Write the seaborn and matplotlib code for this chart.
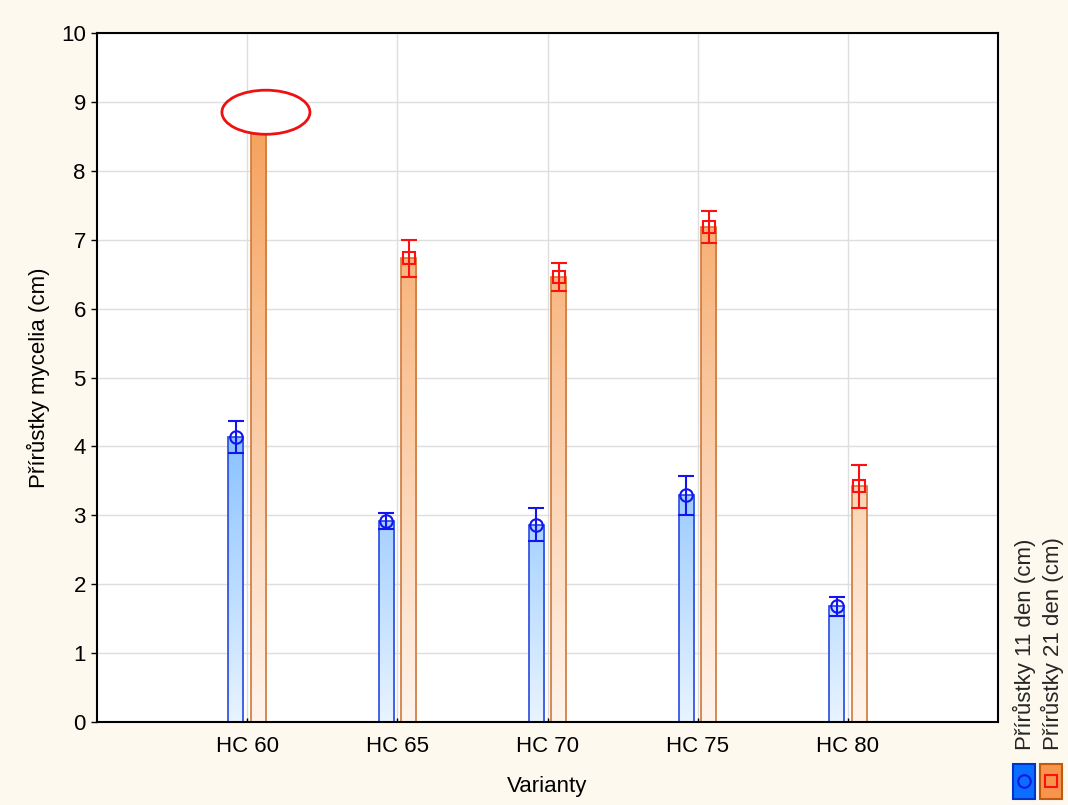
import matplotlib.pyplot as plt
import matplotlib.patches as mpatches
from matplotlib.lines import Line2D
from matplotlib.colors import LinearSegmentedColormap
import numpy as np
import pandas as pd
import seaborn as sns

# hodnoty
varianty = ['HC 60', 'HC 65', 'HC 70', 'HC 75', 'HC 80']
den11 = [4.14, 2.92, 2.86, 3.29, 1.68]
den11_err = [0.235, 0.12, 0.24, 0.28, 0.135]
den21 = [8.80, 6.73, 6.46, 7.18, 3.42]
den21_err = [0.25, 0.27, 0.20, 0.23, 0.315]
serie = ['Přírůstky 11 den (cm)', 'Přírůstky 21 den (cm)']
y_ticks = list(range(0, 11))


def main():
    sns.set_theme(style='ticks')
    plt.rcParams['font.family'] = ['Liberation Sans', 'DejaVu Sans']
    bg = '#fdf9ee'
    fs = 16

    df = pd.DataFrame({
        'Varianty': varianty * 2,
        'hodnota': den11 + den21,
        'serie': [serie[0]] * 5 + [serie[1]] * 5,
    })

    fig = plt.figure(figsize=(10.68, 8.05), dpi=100, facecolor=bg)
    ax = fig.add_axes([0.0908, 0.1031, 0.8437, 0.8559])
    ax.set_facecolor('white')

    sns.barplot(data=df, x='Varianty', y='hodnota', hue='serie', order=varianty,
                hue_order=serie, width=0.3, gap=0.33, errorbar=None,
                legend=False, ax=ax)

    cm_blue = LinearSegmentedColormap.from_list('b', ['#e8f4ff', '#1a86ff'])
    cm_orange = LinearSegmentedColormap.from_list('o', ['#fff4ec', '#f59f58'])
    edges = ['#2848e0', '#d07838']
    err_col = ['#1414f0', '#ff1010']
    markers = ['o', 's']
    errs = [den11_err, den21_err]
    vals = [den11, den21]

    bars = list(ax.patches)
    for i, p in enumerate(bars):
        k = i // 5
        x0, w, h = p.get_x(), p.get_width(), p.get_height()
        p.set_facecolor('none')
        p.set_edgecolor(edges[k])
        p.set_linewidth(1.2)
        p.set_zorder(3)
        grad = np.linspace(0, h, 256).reshape(-1, 1)
        im = ax.imshow(grad, extent=[x0, x0 + w, 0, h], origin='lower',
                       aspect='auto', cmap=[cm_blue, cm_orange][k],
                       vmin=0, vmax=9, zorder=2, interpolation='bilinear')
        im.set_clip_path(p)
        xc = x0 + w / 2
        j = i % 5
        ax.errorbar(xc, vals[k][j], yerr=errs[k][j], color=err_col[k],
                    capsize=5.5, capthick=1.5, elinewidth=1.5, zorder=4,
                    marker=markers[k], markersize=9 if k == 0 else 8.5,
                    markerfacecolor='none', markeredgecolor=err_col[k],
                    markeredgewidth=1.5)

    # zvyrazneni HC 60 (21 den)
    ax.add_patch(mpatches.Ellipse((0.125, 8.85), 0.586, 0.64, facecolor='white',
                                  edgecolor='#ee1111', linewidth=2, zorder=6))

    ax.set_xlim(-1, 5)
    ax.set_ylim(0, 10)
    ax.set_yticks(y_ticks)
    ax.grid(True, color='#dedede', linewidth=1)
    ax.set_axisbelow(True)
    for s in ax.spines.values():
        s.set_color('black')
        s.set_linewidth(1.5)
        s.set_zorder(7)
    ax.tick_params(axis='y', direction='out', length=4, width=1,
                   labelsize=fs, pad=4, colors='black')
    ax.tick_params(axis='x', direction='in', length=3, width=1,
                   labelsize=fs, pad=10, colors='black')
    ax.set_xlabel('Varianty', fontsize=fs, labelpad=14, color='black')
    ax.set_ylabel('Přírůstky mycelia (cm)', fontsize=fs, labelpad=8, color='black')

    # legenda vpravo
    fig.text(1024 / 1068, 1 - 750 / 805, serie[0], rotation=90, ha='center',
             va='bottom', fontsize=fs)
    fig.text(1052 / 1068, 1 - 750 / 805, serie[1], rotation=90, ha='center',
             va='bottom', fontsize=fs)
    leg_fill = ['#0a6eff', '#f7954d']
    leg_edge = ['#0033cc', '#c05a10']
    for k, x_px in enumerate([1013, 1040]):
        r = mpatches.Rectangle((x_px / 1068, 1 - 799 / 805), 22 / 1068, 35 / 805,
                               transform=fig.transFigure, facecolor=leg_fill[k],
                               edgecolor=leg_edge[k], linewidth=1.5)
        fig.add_artist(r)
        fig.add_artist(Line2D([(x_px + 11) / 1068], [1 - 781 / 805],
                              transform=fig.transFigure, marker=markers[k],
                              markersize=9, markerfacecolor='none',
                              markeredgecolor=err_col[k], markeredgewidth=1.5))

    plt.savefig('out.png', dpi=100, facecolor=bg)


if __name__ == "__main__":
    main()
